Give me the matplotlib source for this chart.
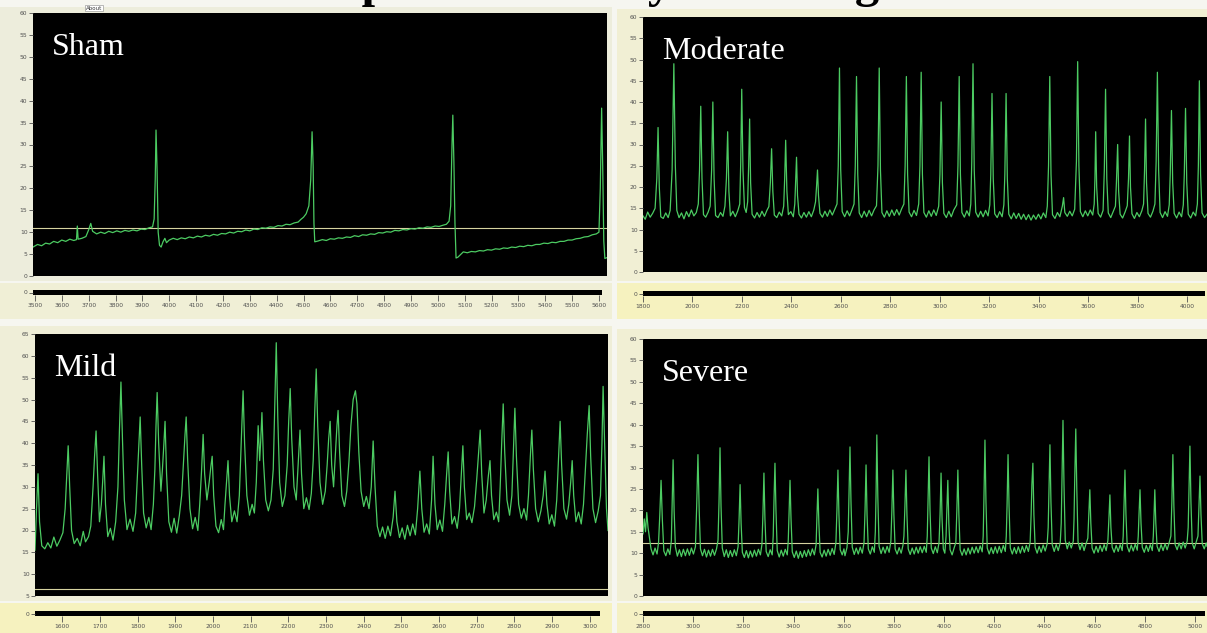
import matplotlib.pyplot as plt
from matplotlib.patches import Rectangle

# ---- data: (time, pressure) ----
sham_trace = [
    (3493, 6.6), (3510, 7.2), (3525, 6.9), (3540, 7.5), (3555, 7.3), (3570, 7.9), (3585, 7.6),
    (3600, 8.2), (3615, 7.9), (3630, 8.4), (3645, 8.1), (3655, 8.3), (3658, 11.4), (3661, 8.4),
    (3675, 8.6), (3690, 9.0), (3700, 10.5), (3708, 12.0), (3715, 10.2), (3730, 9.6), (3745, 10.0),
    (3760, 9.7), (3775, 10.2), (3790, 9.9), (3805, 10.3), (3820, 10.0), (3835, 10.4), (3850, 10.2),
    (3865, 10.5), (3880, 10.3), (3895, 10.7), (3910, 10.6), (3925, 11.0), (3938, 11.2), (3944, 13.0),
    (3948, 22.0), (3951, 33.3), (3955, 24.0), (3959, 10.0), (3964, 7.0), (3970, 6.6), (3977, 7.8),
    (3984, 8.6), (3990, 7.6), (4000, 8.2), (4015, 8.6), (4030, 8.3), (4045, 8.7), (4060, 8.5),
    (4075, 8.9), (4090, 8.7), (4105, 9.1), (4120, 8.9), (4135, 9.3), (4150, 9.1), (4165, 9.5),
    (4180, 9.3), (4195, 9.7), (4210, 9.6), (4225, 10.0), (4240, 9.8), (4255, 10.2), (4270, 10.1),
    (4285, 10.5), (4300, 10.3), (4315, 10.7), (4330, 10.6), (4345, 11.0), (4360, 10.9), (4375, 11.2),
    (4390, 11.1), (4405, 11.5), (4420, 11.4), (4435, 11.8), (4450, 11.7), (4465, 12.1), (4480, 12.3),
    (4490, 12.9), (4500, 13.4), (4510, 14.2), (4520, 16.0), (4527, 22.0), (4532, 32.9), (4536, 25.0),
    (4539, 12.0), (4542, 7.8), (4555, 8.0), (4570, 8.3), (4585, 8.1), (4600, 8.5), (4615, 8.4),
    (4630, 8.7), (4645, 8.6), (4660, 8.9), (4675, 8.8), (4690, 9.2), (4705, 9.0), (4720, 9.4),
    (4735, 9.3), (4750, 9.6), (4765, 9.5), (4780, 9.9), (4795, 9.8), (4810, 10.1), (4825, 10.0),
    (4840, 10.4), (4855, 10.3), (4870, 10.6), (4885, 10.5), (4900, 10.8), (4915, 10.7), (4930, 11.0),
    (4945, 10.9), (4960, 11.2), (4975, 11.1), (4990, 11.4), (5005, 11.3), (5020, 11.6), (5032, 11.8),
    (5042, 12.5), (5048, 16.0), (5053, 30.0), (5056, 36.7), (5060, 26.0), (5064, 12.0), (5068, 4.1),
    (5075, 4.3), (5085, 4.9), (5095, 5.5), (5110, 5.3), (5125, 5.6), (5140, 5.5), (5155, 5.8),
    (5170, 5.7), (5185, 6.0), (5200, 5.9), (5215, 6.2), (5230, 6.1), (5245, 6.4), (5260, 6.3),
    (5275, 6.6), (5290, 6.5), (5305, 6.8), (5320, 6.7), (5335, 7.0), (5350, 6.9), (5365, 7.2),
    (5380, 7.2), (5395, 7.5), (5410, 7.4), (5425, 7.7), (5440, 7.6), (5455, 7.9), (5470, 7.9),
    (5485, 8.2), (5500, 8.2), (5515, 8.5), (5530, 8.6), (5545, 8.9), (5560, 9.0), (5575, 9.4),
    (5590, 9.6), (5600, 10.0), (5605, 20.0), (5610, 38.3), (5614, 25.0), (5618, 8.0), (5622, 4.0),
    (5630, 4.2),
]
sham_threshold = 11.0

moderate_trace = [
    (1796, 13.2), (1805, 12.4), (1815, 14.1), (1825, 12.9), (1835, 13.8), (1845, 15.0), (1852, 22),
    (1857, 34), (1862, 20), (1868, 13.0), (1878, 12.6), (1888, 13.9), (1898, 12.8), (1906, 14.5),
    (1914, 24), (1921, 49), (1927, 25), (1933, 14.5), (1942, 12.8), (1952, 13.9), (1962, 12.5),
    (1972, 14.2), (1982, 13.0), (1992, 14.6), (2002, 13.2), (2012, 14.0), (2020, 16), (2025, 24),
    (2030, 39), (2035, 22), (2041, 13.5), (2050, 12.9), (2060, 14.1), (2068, 15.5), (2074, 24),
    (2079, 40), (2084, 22), (2090, 13.3), (2100, 12.8), (2110, 14.0), (2120, 13.1), (2128, 15.5),
    (2134, 22), (2139, 33), (2144, 19), (2150, 13.2), (2160, 14.3), (2170, 13.0), (2180, 14.4),
    (2188, 16), (2192, 26), (2196, 43), (2201, 24), (2207, 15.2), (2214, 14.0), (2220, 16.5),
    (2224, 25), (2228, 36), (2232, 21), (2238, 13.6), (2248, 12.7), (2258, 14.0), (2268, 12.9),
    (2278, 14.3), (2288, 13.1), (2298, 14.5), (2306, 15.4), (2312, 21), (2317, 29), (2322, 19),
    (2328, 13.4), (2338, 12.8), (2348, 14.1), (2358, 13.2), (2366, 15.5), (2370, 22), (2374, 31),
    (2379, 19), (2385, 13.5), (2395, 14.2), (2405, 13.0), (2411, 16), (2414, 21), (2418, 27),
    (2422, 18), (2428, 13.6), (2438, 12.7), (2448, 14.0), (2458, 12.9), (2468, 14.2), (2478, 13.0),
    (2488, 14.6), (2495, 16.5), (2499, 20), (2503, 24), (2507, 18), (2513, 13.8), (2523, 12.9),
    (2533, 14.3), (2543, 13.1), (2553, 14.6), (2563, 13.4), (2573, 14.8), (2582, 16), (2587, 25),
    (2592, 48), (2597, 24), (2603, 14.2), (2613, 13.0), (2623, 14.4), (2633, 13.2), (2643, 14.7),
    (2651, 16), (2656, 25), (2661, 46), (2666, 23), (2672, 13.9), (2682, 12.8), (2692, 14.3),
    (2702, 13.0), (2712, 14.5), (2722, 13.2), (2732, 14.6), (2742, 15.6), (2748, 25), (2753, 48),
    (2758, 24), (2764, 14.0), (2774, 12.9), (2784, 14.4), (2794, 13.1), (2804, 14.6), (2814, 13.3),
    (2824, 14.7), (2834, 13.4), (2844, 14.9), (2853, 16), (2858, 25), (2863, 46), (2868, 23),
    (2874, 14.1), (2884, 13.0), (2894, 14.5), (2904, 13.3), (2913, 16), (2918, 25), (2923, 47),
    (2928, 23), (2934, 14.0), (2944, 12.9), (2954, 14.4), (2964, 13.1), (2974, 14.6), (2984, 13.3),
    (2994, 15.5), (2999, 23), (3004, 40), (3009, 21), (3015, 13.8), (3025, 12.8), (3035, 14.3),
    (3045, 13.0), (3055, 14.6), (3067, 15.8), (3072, 25), (3077, 46), (3082, 23), (3088, 14.0),
    (3098, 12.9), (3108, 14.4), (3118, 13.2), (3124, 16), (3128, 26), (3133, 49), (3138, 24),
    (3144, 14.1), (3154, 12.9), (3164, 14.3), (3174, 13.0), (3184, 14.5), (3194, 13.2), (3201, 15.8),
    (3205, 23), (3210, 42), (3215, 22), (3221, 13.7), (3231, 12.8), (3241, 14.2), (3251, 13.0),
    (3258, 15.8), (3262, 23), (3267, 42), (3272, 22), (3278, 13.6), (3288, 12.5), (3298, 13.9),
    (3308, 12.6), (3318, 13.8), (3328, 12.4), (3338, 13.6), (3348, 12.3), (3358, 13.5), (3368, 12.2),
    (3378, 13.4), (3388, 12.4), (3398, 13.6), (3408, 12.5), (3418, 13.9), (3428, 12.8), (3434, 15.5),
    (3439, 25), (3444, 46), (3449, 23), (3455, 13.5), (3465, 12.6), (3475, 14.0), (3485, 13.0),
    (3495, 15.5), (3500, 17.5), (3505, 14.0), (3515, 13.1), (3525, 14.3), (3535, 13.2), (3545, 14.8),
    (3552, 26), (3557, 49.5), (3562, 25), (3568, 14.2), (3578, 13.0), (3588, 14.4), (3598, 13.2),
    (3608, 14.6), (3618, 13.4), (3624, 16), (3627, 22), (3630, 33), (3634, 20), (3640, 13.8),
    (3650, 12.9), (3660, 14.5), (3665, 24), (3670, 43), (3675, 22), (3681, 13.9), (3691, 12.8),
    (3701, 14.2), (3710, 15.5), (3714, 21), (3719, 30), (3723, 19), (3729, 13.6), (3739, 12.7),
    (3749, 14.1), (3758, 15.6), (3763, 22), (3767, 32), (3771, 20), (3777, 13.7), (3787, 12.6),
    (3797, 14.0), (3807, 13.0), (3817, 14.4), (3824, 16), (3828, 24), (3832, 36), (3836, 21),
    (3842, 13.8), (3852, 12.9), (3862, 14.3), (3870, 16), (3875, 26), (3880, 47), (3885, 24),
    (3891, 14.0), (3901, 12.8), (3911, 14.2), (3921, 13.1), (3928, 15.8), (3932, 23), (3937, 38),
    (3942, 21), (3948, 13.8), (3958, 12.7), (3968, 14.1), (3978, 13.0), (3985, 15.8), (3989, 23),
    (3994, 38.5), (3999, 21), (4005, 13.6), (4015, 12.7), (4025, 14.1), (4035, 13.2), (4042, 16),
    (4046, 25), (4050, 45), (4055, 23), (4061, 13.9), (4071, 12.8), (4081, 13.6),
]

mild_trace = [
    (1528, 15.5), (1532, 25), (1536, 33), (1540, 22), (1546, 16.5), (1554, 15.8), (1562, 17.2),
    (1570, 16.0), (1578, 18.5), (1586, 16.4), (1594, 17.8), (1602, 19.5), (1608, 25), (1612, 32),
    (1616, 39.4), (1620, 30), (1625, 20), (1632, 17.0), (1640, 18.2), (1648, 16.5), (1656, 19.8),
    (1662, 17.4), (1670, 18.6), (1676, 21), (1682, 30), (1686, 37), (1690, 42.8), (1694, 33),
    (1699, 22), (1704, 26), (1708, 32), (1711, 37), (1715, 26), (1721, 18.6), (1728, 20.5),
    (1735, 17.8), (1742, 22), (1748, 30), (1752, 43), (1756, 54), (1760, 41), (1765, 27),
    (1772, 20.2), (1780, 22.6), (1788, 19.8), (1795, 24), (1800, 33), (1804, 40), (1807, 46),
    (1811, 35), (1816, 24), (1823, 20.6), (1830, 23), (1836, 20.2), (1842, 26), (1846, 34),
    (1849, 44), (1852, 51.6), (1856, 40), (1862, 29), (1866, 34), (1870, 40), (1873, 45),
    (1877, 33), (1883, 22), (1890, 19.6), (1897, 22.8), (1904, 19.4), (1911, 23.5), (1917, 28),
    (1922, 36), (1926, 42), (1929, 46), (1933, 36), (1939, 25), (1946, 20.4), (1953, 23.0),
    (1960, 20.0), (1965, 26), (1970, 34), (1974, 42), (1978, 33), (1984, 27), (1990, 31),
    (1995, 35), (1998, 37), (2002, 28), (2008, 21), (2015, 19.5), (2022, 22.5), (2028, 20.2),
    (2032, 26), (2036, 31), (2040, 36), (2044, 28), (2050, 22), (2057, 24.5), (2064, 22.0),
    (2070, 28), (2075, 40), (2080, 52), (2084, 40), (2090, 28), (2097, 23.5), (2104, 26.0),
    (2110, 24), (2115, 31), (2120, 44), (2124, 36), (2127, 41), (2130, 47), (2134, 36),
    (2140, 27), (2147, 24.5), (2154, 27.0), (2160, 34), (2164, 48), (2168, 63), (2172, 46),
    (2177, 31), (2184, 25.5), (2191, 28), (2197, 35), (2201, 45), (2205, 52.5), (2209, 41),
    (2215, 30), (2221, 27), (2226, 35), (2231, 43), (2235, 33), (2241, 25), (2248, 27.5),
    (2255, 24.8), (2261, 28.5), (2266, 36), (2270, 47), (2274, 57), (2278, 44), (2284, 31),
    (2291, 26.0), (2298, 29), (2303, 35), (2307, 41), (2311, 45), (2315, 35), (2320, 30),
    (2325, 38), (2329, 44), (2332, 47.5), (2336, 38), (2342, 28), (2349, 25.5), (2355, 29),
    (2361, 36), (2366, 44), (2372, 50), (2378, 52), (2382, 49), (2387, 38), (2393, 29),
    (2400, 25.5), (2407, 27.8), (2414, 25.0), (2420, 30), (2425, 40.5), (2430, 30), (2436, 21),
    (2443, 18.6), (2450, 20.8), (2457, 18.2), (2464, 21.0), (2471, 18.8), (2478, 23), (2483, 29),
    (2488, 22), (2495, 18.4), (2502, 20.6), (2509, 18.0), (2516, 21.2), (2523, 18.8), (2530, 21.5),
    (2537, 19.0), (2543, 25), (2549, 33.6), (2554, 25), (2560, 19.6), (2567, 21.5), (2574, 19.2),
    (2580, 27), (2584, 37), (2589, 26), (2595, 20.2), (2602, 22.4), (2609, 19.8), (2615, 26),
    (2620, 33), (2624, 38), (2628, 29), (2634, 21.5), (2641, 23.2), (2648, 20.5), (2654, 25),
    (2659, 33), (2663, 39.4), (2667, 30), (2673, 22.5), (2680, 24.0), (2687, 21.8), (2694, 25.5),
    (2700, 32), (2705, 38), (2709, 43), (2713, 33), (2719, 24), (2725, 27), (2730, 32),
    (2735, 36), (2739, 28), (2745, 22.5), (2752, 24.2), (2758, 22), (2762, 30), (2766, 40),
    (2770, 49), (2774, 38), (2780, 27), (2787, 23.5), (2793, 28), (2797, 38), (2801, 48),
    (2805, 37), (2811, 26), (2818, 22.8), (2825, 25.0), (2832, 22.4), (2837, 28), (2842, 37),
    (2846, 43), (2850, 34), (2856, 25), (2863, 22.0), (2870, 24.5), (2876, 28), (2881, 33.6),
    (2886, 26), (2892, 21.5), (2899, 23.6), (2906, 21.0), (2912, 27), (2917, 37), (2921, 45),
    (2925, 35), (2931, 25), (2938, 22.6), (2944, 26), (2949, 31), (2953, 36), (2957, 28),
    (2963, 22), (2970, 24.2), (2977, 21.5), (2983, 26), (2988, 34), (2993, 42), (2998, 48.6),
    (3002, 37), (3008, 25), (3015, 21.8), (3022, 24.5), (3028, 28), (3032, 40), (3035, 53),
    (3039, 40), (3044, 25), (3048, 20),
]
mild_threshold = 6.5

severe_trace = [
    (2800, 14.5), (2805, 18.0), (2810, 15.0), (2815, 19.5), (2820, 16.0), (2826, 13.5), (2832, 11.0),
    (2840, 9.6), (2848, 11.2), (2856, 9.8), (2862, 12.5), (2867, 19), (2872, 27), (2877, 18),
    (2883, 10.5), (2891, 9.4), (2899, 11.0), (2907, 9.7), (2913, 13), (2916, 21), (2920, 31.8),
    (2924, 20), (2929, 11.5), (2937, 9.3), (2945, 10.8), (2953, 9.2), (2961, 10.9), (2969, 9.4),
    (2977, 11.0), (2985, 9.5), (2993, 11.2), (3001, 9.8), (3009, 11.5), (3014, 21), (3019, 33),
    (3024, 20), (3029, 11), (3037, 9.4), (3045, 10.9), (3053, 9.1), (3061, 10.7), (3069, 9.3),
    (3077, 10.9), (3085, 9.5), (3093, 11.0), (3099, 13), (3103, 22), (3107, 34.6), (3111, 21),
    (3116, 11.2), (3124, 9.2), (3132, 10.8), (3140, 9.0), (3148, 10.6), (3156, 9.2), (3164, 10.8),
    (3172, 9.4), (3179, 11.5), (3183, 18), (3187, 26), (3191, 17), (3196, 10.2), (3204, 9.0),
    (3212, 10.6), (3220, 8.9), (3228, 10.5), (3236, 9.1), (3244, 10.7), (3252, 9.3), (3260, 10.9),
    (3268, 9.6), (3274, 12), (3278, 19), (3282, 28.7), (3286, 18), (3291, 10.4), (3299, 9.2),
    (3307, 10.8), (3315, 9.6), (3319, 14), (3322, 22), (3326, 31), (3330, 20), (3335, 10.6),
    (3343, 9.1), (3351, 10.7), (3359, 9.3), (3367, 10.9), (3375, 9.6), (3379, 13), (3382, 19),
    (3386, 27), (3390, 18), (3395, 10.3), (3403, 9.0), (3411, 10.5), (3419, 8.8), (3427, 10.4),
    (3435, 9.0), (3443, 10.6), (3451, 9.2), (3459, 10.8), (3467, 9.4), (3475, 11.0), (3483, 9.6),
    (3490, 12), (3493, 18), (3497, 25), (3501, 17), (3506, 10.2), (3514, 9.1), (3522, 10.7),
    (3530, 9.3), (3538, 10.9), (3546, 9.5), (3554, 11.1), (3562, 9.7), (3569, 12.5), (3573, 20),
    (3577, 29.4), (3581, 19), (3586, 10.8), (3594, 9.6), (3601, 11), (3605, 9.4), (3613, 11.3),
    (3618, 15), (3621, 23), (3625, 34.8), (3629, 22), (3634, 11.4), (3642, 9.7), (3650, 11.2),
    (3658, 9.8), (3666, 11.4), (3674, 10.0), (3681, 12.5), (3685, 20), (3689, 30.6), (3693, 19),
    (3698, 11.0), (3706, 9.8), (3714, 11.5), (3722, 10.2), (3726, 15), (3729, 24), (3732, 37.6),
    (3736, 23), (3741, 11.6), (3749, 9.9), (3757, 11.4), (3765, 10.0), (3773, 11.6), (3781, 10.2),
    (3788, 12.8), (3792, 20), (3796, 29.4), (3800, 19), (3805, 11.0), (3813, 9.8), (3821, 11.3),
    (3829, 10.0), (3836, 11.8), (3840, 14), (3844, 21), (3848, 29.4), (3852, 19), (3857, 11.0),
    (3865, 9.7), (3873, 11.2), (3881, 9.8), (3889, 11.4), (3897, 10.0), (3905, 11.5), (3913, 10.1),
    (3921, 11.6), (3929, 10.2), (3933, 14), (3936, 22), (3940, 32.5), (3944, 20), (3949, 11.2),
    (3957, 9.9), (3965, 11.5), (3973, 10.1), (3980, 12.5), (3984, 19), (3988, 28.7), (3992, 18),
    (3997, 11), (4003, 10.0), (4008, 14), (4011, 20), (4015, 27), (4019, 17), (4024, 10.8),
    (4032, 9.6), (4040, 11.2), (4047, 12.5), (4051, 20), (4055, 29.4), (4059, 19), (4064, 10.8),
    (4072, 9.5), (4080, 11.0), (4088, 9.6), (4096, 11.2), (4104, 9.8), (4112, 11.4), (4120, 10.0),
    (4128, 11.5), (4136, 10.1), (4144, 11.7), (4152, 10.3), (4156, 14), (4159, 23), (4163, 36.4),
    (4167, 22), (4172, 11.2), (4180, 9.8), (4188, 11.3), (4196, 9.9), (4204, 11.5), (4212, 10.0),
    (4220, 11.6), (4228, 10.1), (4236, 11.8), (4244, 10.4), (4248, 14), (4251, 21), (4255, 33),
    (4259, 21), (4264, 11.2), (4272, 9.8), (4280, 11.3), (4288, 9.9), (4296, 11.5), (4304, 10.0),
    (4312, 11.6), (4320, 10.2), (4328, 11.8), (4336, 10.4), (4343, 12.5), (4347, 19), (4350, 26),
    (4354, 31), (4358, 19), (4363, 11.4), (4371, 10.0), (4379, 11.6), (4387, 10.2), (4395, 11.9),
    (4403, 10.5), (4411, 12.2), (4415, 16), (4418, 24), (4422, 35.3), (4426, 22), (4431, 12),
    (4439, 10.4), (4447, 12.0), (4455, 10.6), (4463, 12.4), (4467, 17), (4470, 27), (4474, 41),
    (4478, 26), (4483, 13), (4491, 11.0), (4499, 12.6), (4507, 11.2), (4515, 12.8), (4518, 18),
    (4521, 28), (4525, 39), (4529, 25), (4534, 12.6), (4542, 10.8), (4550, 12.4), (4558, 10.6),
    (4566, 12.2), (4573, 13.5), (4577, 19), (4581, 24.8), (4585, 17), (4590, 11.2), (4598, 10.0),
    (4606, 11.6), (4614, 10.2), (4622, 11.8), (4630, 10.4), (4638, 12.0), (4646, 10.6), (4653, 13),
    (4657, 18), (4661, 23.6), (4665, 16), (4670, 11.4), (4678, 10.2), (4686, 11.8), (4694, 10.4),
    (4702, 12.0), (4710, 10.6), (4714, 14), (4717, 21), (4721, 29.4), (4725, 19), (4730, 11.6),
    (4738, 10.3), (4746, 11.9), (4754, 10.5), (4762, 12.1), (4770, 10.7), (4774, 14), (4777, 19),
    (4781, 24.8), (4785, 17), (4790, 11.4), (4798, 10.2), (4806, 11.8), (4814, 10.4), (4822, 12.0),
    (4830, 10.6), (4834, 14), (4837, 19), (4840, 24.8), (4844, 17), (4849, 11.6), (4857, 10.4),
    (4865, 12.0), (4873, 10.6), (4881, 12.2), (4889, 10.8), (4897, 12.4), (4904, 14), (4908, 22),
    (4912, 33), (4916, 21), (4921, 12), (4929, 10.8), (4937, 12.4), (4945, 11.0), (4953, 12.6),
    (4961, 11.2), (4969, 12.8), (4973, 16), (4976, 24), (4980, 35), (4984, 22), (4989, 12.4),
    (4997, 11.0), (5005, 12.6), (5012, 14), (5016, 21), (5020, 28), (5024, 19), (5029, 12.2),
    (5037, 11.0), (5045, 12.4), (5048, 11.6),
]
severe_threshold = 12.4

sham_ticks = list(range(3500, 5601, 100))
moderate_ticks = list(range(1800, 4001, 200))
mild_ticks = list(range(1600, 3001, 100))
severe_ticks = list(range(2800, 5001, 200))
pressure_ticks = list(range(0, 61, 5))
mild_pressure_ticks = list(range(5, 66, 5))

title = "Representative cystometrograms"

W, H = 1207, 633
fig = plt.figure(figsize=(W / 100, H / 100), dpi=100)
fig.patch.set_facecolor('#f6f6f0')


def box(x0, y0, x1, y1):
    # pixel box (top-left origin) -> figure fraction rect
    return [x0 / W, 1 - y1 / H, (x1 - x0) / W, (y1 - y0) / H]


def backdrop(x0, y0, x1, y1, color):
    fig.add_artist(Rectangle((x0 / W, 1 - y1 / H), (x1 - x0) / W, (y1 - y0) / H,
                             transform=fig.transFigure, facecolor=color,
                             edgecolor='none', zorder=0))


def draw_panel(trace, label, plot_px, xlim, ylim, yticks, bar_px, bar_xlim, xticks, threshold):
    t = [p[0] for p in trace]
    v = [p[1] for p in trace]

    ax = fig.add_axes(box(*plot_px))
    ax.set_facecolor('black')
    if threshold is not None:
        ax.axhline(threshold, color='#d6d3a0', lw=0.8)
    ax.plot(t, v, color='#4ccb62', lw=0.9)
    ax.set_xlim(xlim)
    ax.set_ylim(ylim)
    ax.set_xticks([])
    ax.set_yticks(yticks)
    ax.tick_params(axis='y', length=3, width=0.6, labelsize=4.3, colors='#505050', pad=1)
    for s in ax.spines.values():
        s.set_visible(False)
    # panel name sits ~19 px in from the left and ~20 px down from the top of the plot
    pw = plot_px[2] - plot_px[0]
    ph = plot_px[3] - plot_px[1]
    ax.text(19 / pw, 1 - 20 / ph, label, transform=ax.transAxes, color='white', fontsize=23,
            family='Liberation Serif', va='top', ha='left')

    bx = fig.add_axes(box(*bar_px))
    bx.set_facecolor('black')
    bx.set_xlim(bar_xlim)
    bx.set_ylim(0, 1)
    bx.set_xticks(xticks)
    bx.set_xticklabels([str(x) for x in xticks])
    bx.set_yticks([0.5])
    bx.set_yticklabels(['0'])
    bx.tick_params(axis='x', length=4, width=0.6, labelsize=4.3, colors='#505050', pad=2)
    bx.tick_params(axis='y', length=3, width=0.6, labelsize=4.3, colors='#505050', pad=1)
    for s in bx.spines.values():
        s.set_visible(False)


# panel backgrounds
backdrop(0, 7, 612, 281, '#ededdc')
backdrop(0, 283, 612, 319, '#f0efd6')
backdrop(617, 9, 1207, 281, '#f1efd4')
backdrop(617, 283, 1207, 319, '#f6f2bf')
backdrop(0, 326, 612, 601, '#efeed8')
backdrop(0, 603, 612, 633, '#f6f2bf')
backdrop(617, 329, 1207, 601, '#f1efd4')
backdrop(617, 603, 1207, 633, '#f5f1c4')

draw_panel(sham_trace, 'Sham', (33, 13, 607, 276), (3493, 5630), (0, 60), pressure_ticks,
           (33, 290, 602, 295), (3492.6, 5611), sham_ticks, sham_threshold)
draw_panel(moderate_trace, 'Moderate', (643, 17, 1207, 272), (1796, 4081), (0, 60), pressure_ticks,
           (643, 291, 1205, 296), (1800, 4073), moderate_ticks, None)
draw_panel(mild_trace, 'Mild', (35, 334, 608, 596), (1528, 3048), (5, 65), mild_pressure_ticks,
           (35, 611, 600, 616), (1528, 3027), mild_ticks, mild_threshold)
draw_panel(severe_trace, 'Severe', (643, 339, 1207, 596), (2800, 5048), (0, 60), pressure_ticks,
           (643, 611, 1205, 616), (2800, 5040), severe_ticks, severe_threshold)

fig.text(86 / W, 1 - 8 / H, 'About', fontsize=4, color='#333333', ha='left', va='center',
         bbox=dict(boxstyle='square,pad=0.15', facecolor='white', edgecolor='#888888', lw=0.4))

# title: the screenshot cuts it at the top edge, only the descenders show
fig.text(645 / W, 1 + 3 / H, title, fontsize=35, fontweight='bold', family='Liberation Serif',
         ha='center', va='baseline', color='black')

fig.savefig('out.png', dpi=100, facecolor=fig.get_facecolor())
